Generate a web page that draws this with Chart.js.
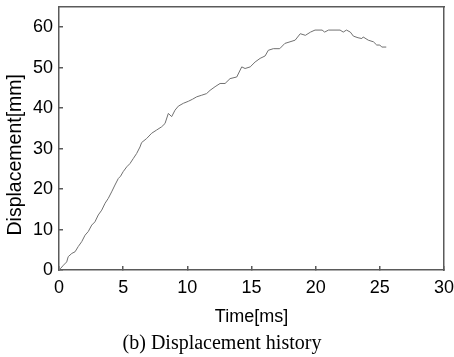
<!DOCTYPE html>
<html>
<head>
<meta charset="utf-8">
<script src="https://cdn.jsdelivr.net/npm/chart.js@4/dist/chart.umd.min.js"></script>
<style>
  html, body { margin: 0; padding: 0; background: #fff; }
  #c { display: block; }
</style>
</head>
<body>
<canvas id="c" width="454" height="357"></canvas>
<script>
// Time [ms]
const timeMs = [0.0, 0.1, 0.35, 0.6, 0.72, 1.0, 1.25, 1.5, 1.77, 2.03, 2.28, 2.55, 2.8, 3.06, 3.33, 3.59, 3.84, 4.1, 4.36, 4.62, 4.8, 5.0, 5.28, 5.53, 5.8, 6.05, 6.31, 6.44, 6.83, 7.22, 7.61, 8.0, 8.26, 8.52, 8.78, 9.04, 9.3, 9.69, 10.08, 10.4, 10.73, 11.12, 11.5, 11.77, 12.16, 12.55, 12.94, 13.33, 13.85, 14.24, 14.5, 14.9, 15.28, 15.67, 16.06, 16.31, 16.7, 17.2, 17.6, 18.0, 18.4, 18.8, 19.2, 19.6, 19.95, 20.5, 20.7, 21.0, 21.9, 22.15, 22.4, 22.7, 22.94, 23.3, 23.6, 23.7, 24.1, 24.5, 24.76, 25.0, 25.15, 25.5];
// Displacement [mm]
const dispMm = [0.0, 0.3, 1.2, 2.0, 3.3, 4.1, 4.5, 5.8, 7.0, 8.6, 9.5, 11.1, 11.9, 13.6, 14.8, 16.5, 17.7, 19.3, 21.0, 22.6, 23.2, 24.3, 25.5, 26.3, 27.6, 28.8, 30.4, 31.5, 32.5, 33.8, 34.6, 35.4, 36.2, 38.7, 37.9, 39.5, 40.5, 41.2, 41.7, 42.2, 42.8, 43.2, 43.6, 44.4, 45.3, 46.1, 46.1, 47.3, 47.7, 50.2, 49.8, 50.2, 51.4, 52.3, 52.9, 54.3, 54.7, 54.7, 56.0, 56.4, 56.8, 58.4, 58.0, 58.8, 59.3, 59.3, 58.8, 59.3, 59.3, 58.8, 59.3, 58.8, 57.8, 57.4, 57.2, 57.6, 56.8, 56.4, 55.6, 55.6, 55.1, 55.1];
const xTickValues = [0, 5, 10, 15, 20, 25, 30];
const yTickValues = [0, 10, 20, 30, 40, 50, 60];
const xTitle = 'Time[ms]';
const yTitle = 'Displacement[mm]';
const caption = '(b) Displacement history';

const points = timeMs.map((t, i) => ({ x: t, y: dispMm[i] }));
const axisColor = '#5a5a5a';
const tickFont = { family: '"Liberation Sans", Arial, sans-serif', size: 18 };

function noPad(s) { s.paddingTop = 0; s.paddingBottom = 0; s.paddingLeft = 0; s.paddingRight = 0; }

new Chart(document.getElementById('c'), {
  type: 'scatter',
  data: {
    datasets: [{
      data: points,
      showLine: true,
      borderColor: '#707070',
      borderWidth: 1,
      pointRadius: 0,
      tension: 0,
      fill: false
    }]
  },
  options: {
    responsive: false,
    animation: false,
    events: [],
    layout: { padding: { top: 7, right: 10, left: 0, bottom: 0 } },
    plugins: {
      legend: { display: false },
      tooltip: { enabled: false },
      title: {
        display: true,
        position: 'bottom',
        text: caption,
        color: '#000',
        font: { family: '"Liberation Serif", "Times New Roman", serif', size: 20, weight: 'normal' },
        padding: { top: 3, bottom: 1 }
      }
    },
    scales: {
      x: {
        type: 'linear',
        position: 'bottom',
        min: 0, max: 30,
        afterBuildTicks: s => { s.ticks = xTickValues.map(v => ({ value: v })); },
        afterFit: s => { s.height = 59; noPad(s); },
        ticks: { color: '#000', font: tickFont, padding: 11, maxRotation: 0 },
        grid: { display: true, drawOnChartArea: false, drawTicks: true, tickLength: -4, color: axisColor, lineWidth: 1.5 },
        border: { display: true, color: axisColor, width: 1.5 },
        title: { display: true, text: xTitle, color: '#000', font: tickFont, padding: { top: 0, bottom: 1 } }
      },
      y: {
        type: 'linear',
        position: 'left',
        min: 0, max: 65,
        afterBuildTicks: s => { s.ticks = yTickValues.map(v => ({ value: v })); },
        afterFit: s => { s.width = 59; noPad(s); },
        ticks: { color: '#000', font: tickFont, padding: 10 },
        grid: { display: true, drawOnChartArea: false, drawTicks: true, tickLength: -4, color: axisColor, lineWidth: 1.5 },
        border: { display: true, color: axisColor, width: 1.5 },
        title: { display: true, text: yTitle + '\u00a0\u00a0\u00a0\u00a0\u00a0\u00a0', color: '#000', font: { family: '"Liberation Sans", Arial, sans-serif', size: 19.5 }, padding: { top: 4, bottom: 4 } }
      },
      x2: {
        type: 'linear', position: 'top', min: 0, max: 30,
        afterFit: s => { s.height = 0; noPad(s); },
        ticks: { display: false },
        grid: { display: false },
        border: { display: true, color: axisColor, width: 1.5 }
      },
      y2: {
        type: 'linear', position: 'right', min: 0, max: 65,
        afterFit: s => { s.width = 0; noPad(s); },
        ticks: { display: false },
        grid: { display: false },
        border: { display: true, color: axisColor, width: 1.5 }
      }
    }
  }
});
</script>
</body>
</html>
